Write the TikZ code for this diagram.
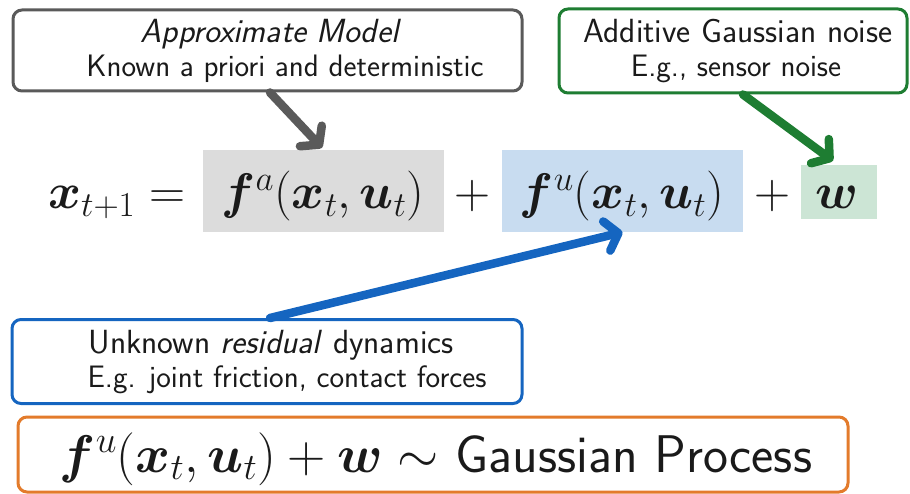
\RequirePackage{fix-cm}
\documentclass[tikz,border=0pt]{standalone}
\usepackage{amsmath,bm}
\usetikzlibrary{arrows.meta}
\definecolor{cgray}{HTML}{5A5A5A}
\definecolor{cgreen}{HTML}{1E7D32}
\definecolor{cblue}{HTML}{1565C0}
\definecolor{corange}{HTML}{E37B2B}
\definecolor{hgray}{HTML}{DCDCDC}
\definecolor{hblue}{HTML}{C8DCF0}
\definecolor{hgreen}{HTML}{CCE5D5}
\definecolor{ink}{HTML}{1A1A1A}
\tikzset{
  callout/.style={draw, rounded corners=9pt, line width=3pt, fill=white, inner sep=0pt},
  headline/.style={anchor=base, inner sep=0pt, text=ink, font=\sffamily\fontsize{33.5}{36}\selectfont},
  subline/.style={anchor=base, inner sep=0pt, text=ink, font=\sffamily\fontsize{31}{34}\selectfont},
  hlbox/.style={inner sep=0pt},
  eq/.style={font=\fontsize{50}{60}\selectfont, inner sep=0pt, anchor=base, text=ink},
  pointer/.style={line width=8.5pt, line cap=round,
    -{Straight Barb[length=12pt,width=30pt,line cap=round,line join=round]}},
}
\begin{document}
\begin{tikzpicture}[x=1pt,y=-1pt]
\useasboundingbox (0,0) rectangle (910,494);
% callouts
\node[callout, draw=cgray, minimum width=509pt, minimum height=81pt] (am) at (267.5,50.5) {};
\node[headline] (amt) at (271,43) {\textit{Approximate Model}};
\node[subline] (ams) at (285,77) {Known a priori and deterministic};
\node[callout, draw=cgreen, minimum width=348pt, minimum height=84pt] (nb) at (733,51) {};
\node[headline] (nbt) at (738,43) {Additive Gaussian noise};
\node[subline] (nbs) at (736,77) {E.g., sensor noise};
\node[callout, draw=cblue, minimum width=510pt, minimum height=84pt] (rb) at (267,361.5) {};
\node[headline] (rbt) at (271,353) {Unknown \textit{residual} dynamics};
\node[subline] (rbs) at (287,387) {E.g. joint friction, contact forces};
% highlights
\node[hlbox, fill=hgray, minimum width=241pt, minimum height=82pt] (fa) at (323.5,191) {};
\node[hlbox, fill=hblue, minimum width=241pt, minimum height=82pt] (fu) at (622.5,191) {};
\node[hlbox, fill=hgreen, minimum width=76pt, minimum height=54pt] (wb) at (839,192) {};
% equation
\node[eq, anchor=base west] (lhs) at (48,209) {$\bm{x}_{t+1} =$};
\node[eq] (fat) at (323,209) {$\bm{f}^{a}(\bm{x}_t,\bm{u}_t)$};
\node[eq] (p1) at (472,209) {$+$};
\node[eq] (fut) at (622,209) {$\bm{f}^{u}(\bm{x}_t,\bm{u}_t)$};
\node[eq] (p2) at (772,209) {$+$};
\node[eq] (wt) at (837,209) {$\bm{w}$};
% Gaussian process box
\node[callout, draw=corange, minimum width=830pt, minimum height=75pt] (gp) at (433,454.5) {};
\node[anchor=base, inner sep=0pt, text=ink, font=\sffamily\fontsize{53}{60}\selectfont] (gpt) at (436,472)
  {$\fontsize{54}{60}\selectfont\bm{f}^{u}(\bm{x}_t,\bm{u}_t)+\bm{w}\sim$ Gaussian Process};
% pointers
\draw[pointer, draw=cgray] ([xshift=2.5pt]am.south) -- ([xshift=-1.5pt,yshift=2pt]fa.north);
\draw[pointer, draw=cgreen] ([xshift=10pt]nb.south) -- ([xshift=-6pt,yshift=4pt]wb.north);
\draw[pointer, draw=cblue] ([xshift=3pt]rb.north) -- (fu.south);
\end{tikzpicture}
\end{document}
